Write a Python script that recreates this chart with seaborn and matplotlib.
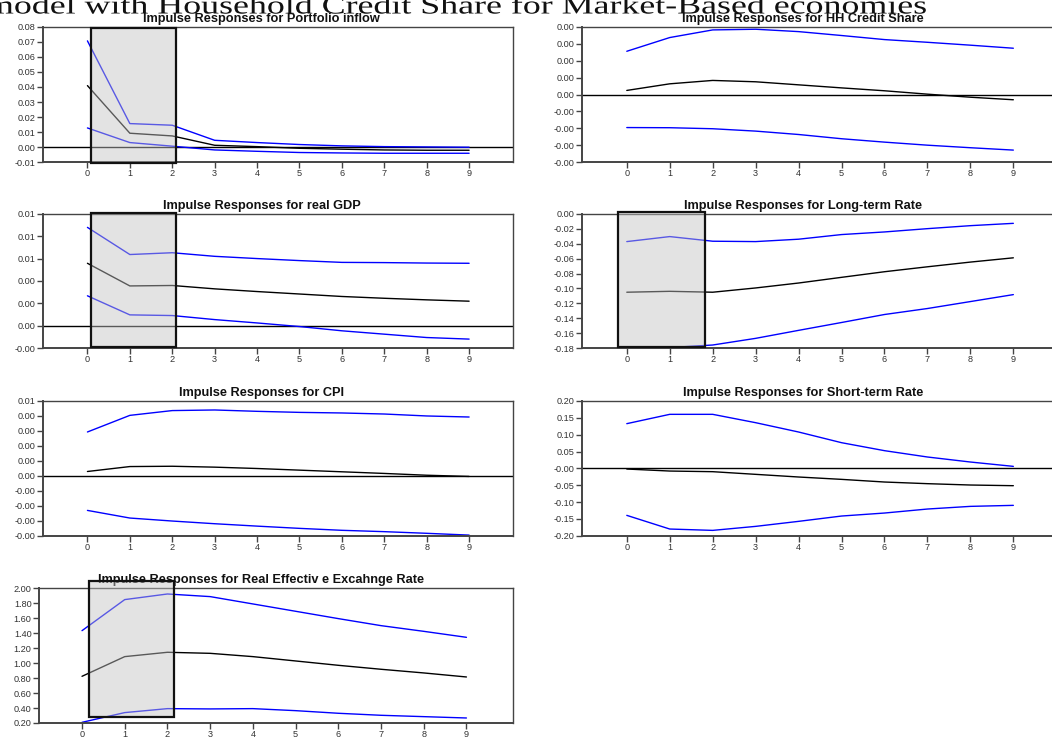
import numpy as np
import pandas as pd
import matplotlib
matplotlib.use("Agg")
import matplotlib.pyplot as plt
from matplotlib.patches import Rectangle
from matplotlib.transforms import Affine2D
import matplotlib.patheffects as pe
import seaborn as sns

# ---------------- data ----------------
horizon = [0, 1, 2, 3, 4, 5, 6, 7, 8, 9]

portfolio_hi = [0.0706, 0.0157, 0.0146, 0.0046, 0.0031, 0.0018, 0.0009, 0.0004, 0.0002, 0.0000]
portfolio_mid = [0.0409, 0.0093, 0.0075, 0.0013, 0.0004, -0.0007, -0.0013, -0.0018, -0.0020, -0.0020]
portfolio_lo = [0.0128, 0.0031, 0.0007, -0.0018, -0.0027, -0.0035, -0.0038, -0.0040, -0.0040, -0.0040]

hh_hi = [0.00255, 0.00336, 0.00381, 0.00385, 0.00371, 0.00348, 0.00324, 0.00308, 0.00291, 0.00273]
hh_mid = [0.00024, 0.00063, 0.00083, 0.00075, 0.00057, 0.00039, 0.00022, 0.00002, -0.00016, -0.00031]
hh_lo = [-0.00195, -0.00196, -0.00202, -0.00216, -0.00236, -0.00261, -0.00281, -0.00299, -0.00314, -0.00328]

gdp_hi = [0.00878, 0.00636, 0.00652, 0.00620, 0.00600, 0.00582, 0.00566, 0.00564, 0.00560, 0.00558]
gdp_mid = [0.00558, 0.00356, 0.00360, 0.00330, 0.00306, 0.00284, 0.00262, 0.00246, 0.00232, 0.00220]
gdp_lo = [0.00268, 0.00098, 0.00092, 0.00056, 0.00026, -0.00006, -0.00044, -0.00074, -0.00104, -0.00118]

lt_hi = [-0.0373, -0.0306, -0.0368, -0.0373, -0.0341, -0.0279, -0.0244, -0.0200, -0.0160, -0.0129]
lt_mid = [-0.1050, -0.1038, -0.1050, -0.0993, -0.0927, -0.0851, -0.0776, -0.0710, -0.0647, -0.0590]
lt_lo = [-0.1790, -0.1790, -0.1756, -0.1667, -0.1560, -0.1455, -0.1348, -0.1268, -0.1175, -0.1082]

cpi_hi = [0.00293, 0.00404, 0.00436, 0.00440, 0.00431, 0.00424, 0.00420, 0.00413, 0.00400, 0.00393]
cpi_mid = [0.00029, 0.00062, 0.00064, 0.00058, 0.00049, 0.00038, 0.00027, 0.00016, 0.00004, -0.00004]
cpi_lo = [-0.00231, -0.00282, -0.00302, -0.00320, -0.00336, -0.00351, -0.00364, -0.00373, -0.00384, -0.00396]

st_hi = [0.1327, 0.1604, 0.1604, 0.1356, 0.1079, 0.0762, 0.0525, 0.0337, 0.0188, 0.0059]
st_mid = [-0.0020, -0.0080, -0.0099, -0.0178, -0.0257, -0.0327, -0.0406, -0.0455, -0.0495, -0.0515]
st_lo = [-0.1396, -0.1802, -0.1842, -0.1723, -0.1574, -0.1416, -0.1327, -0.1208, -0.1129, -0.1099]

reer_hi = [1.434, 1.849, 1.924, 1.889, 1.791, 1.693, 1.595, 1.501, 1.425, 1.345]
reer_mid = [0.824, 1.087, 1.145, 1.131, 1.087, 1.029, 0.971, 0.918, 0.869, 0.815]
reer_lo = [0.209, 0.339, 0.392, 0.388, 0.392, 0.365, 0.330, 0.303, 0.285, 0.267]

titles = [
    "Impulse Responses for Portfolio inflow",
    "Impulse Responses for HH Credit Share",
    "Impulse Responses for real GDP",
    "Impulse Responses for Long-term Rate",
    "Impulse Responses for CPI",
    "Impulse Responses for Short-term Rate",
    "Impulse Responses for Real Effectiv e Excahnge Rate",
]

yticks_portfolio = [-0.01, 0.00, 0.01, 0.02, 0.03, 0.04, 0.05, 0.06, 0.07, 0.08]
ylabels_portfolio = ["-0.01", "0.00", "0.01", "0.02", "0.03", "0.04", "0.05", "0.06", "0.07", "0.08"]
yticks_hh = [-0.004, -0.003, -0.002, -0.001, 0.0, 0.001, 0.002, 0.003, 0.004]
ylabels_hh = ["-0.00", "-0.00", "-0.00", "-0.00", "0.00", "0.00", "0.00", "0.00", "0.00"]
yticks_gdp = [-0.002, 0.0, 0.002, 0.004, 0.006, 0.008, 0.010]
ylabels_gdp = ["-0.00", "0.00", "0.00", "0.00", "0.01", "0.01", "0.01"]
yticks_lt = [-0.18, -0.16, -0.14, -0.12, -0.10, -0.08, -0.06, -0.04, -0.02, 0.0]
ylabels_lt = ["-0.18", "-0.16", "-0.14", "-0.12", "-0.10", "-0.08", "-0.06", "-0.04", "-0.02", "0.00"]
yticks_cpi = [-0.004, -0.003, -0.002, -0.001, 0.0, 0.001, 0.002, 0.003, 0.004, 0.005]
ylabels_cpi = ["-0.00", "-0.00", "-0.00", "-0.00", "0.00", "0.00", "0.00", "0.00", "0.00", "0.01"]
yticks_st = [-0.20, -0.15, -0.10, -0.05, 0.0, 0.05, 0.10, 0.15, 0.20]
ylabels_st = ["-0.20", "-0.15", "-0.10", "-0.05", "-0.00", "0.05", "0.10", "0.15", "0.20"]
yticks_reer = [0.2, 0.4, 0.6, 0.8, 1.0, 1.2, 1.4, 1.6, 1.8, 2.0]
ylabels_reer = ["0.20", "0.40", "0.60", "0.80", "1.00", "1.20", "1.40", "1.60", "1.80", "2.00"]
xlabels = ["0", "1", "2", "3", "4", "5", "6", "7", "8", "9"]

suptitle = "model with Household Credit Share for Market-Based economies"

# ---------------- style ----------------
sns.set_theme(style="ticks")
plt.rcParams["font.family"] = ["Liberation Sans", "DejaVu Sans"]

W, H = 1052, 738
fig = plt.figure(figsize=(W / 100, H / 100), dpi=100)
fig.patch.set_facecolor("white")


def rect(x0, ytop, x1, ybot):
    return [x0 / W, 1 - ybot / H, (x1 - x0) / W, (ybot - ytop) / H]


panels = [
    dict(r=rect(42.7, 26.7, 513, 162.3), xlim=(-1.055, 10.035), ylim=(-0.01, 0.08),
         hi=portfolio_hi, mid=portfolio_mid, lo=portfolio_lo, yt=yticks_portfolio, yl=ylabels_portfolio,
         zero=True, box=(0.085, -0.0105, 2.1, 0.0792), tx=0.4652, right=False),
    dict(r=rect(581.7, 26.7, 1052, 162.3), xlim=(-1.05, 9.90), ylim=(-0.004, 0.004),
         hi=hh_hi, mid=hh_mid, lo=hh_lo, yt=yticks_hh, yl=ylabels_hh,
         zero=True, box=None, tx=0.4706, right=True),
    dict(r=rect(42.7, 213.7, 513, 348.3), xlim=(-1.055, 10.035), ylim=(-0.002, 0.010),
         hi=gdp_hi, mid=gdp_mid, lo=gdp_lo, yt=yticks_gdp, yl=ylabels_gdp,
         zero=True, box=(0.085, -0.00188, 2.1, 0.0101), tx=0.4652, right=False),
    dict(r=rect(581.7, 213.7, 1052, 348.3), xlim=(-1.05, 9.90), ylim=(-0.18, 0.0),
         hi=lt_hi, mid=lt_mid, lo=lt_lo, yt=yticks_lt, yl=ylabels_lt,
         zero=False, box=(-0.196, -0.178, 1.82, 0.0018), tx=0.4706, right=True),
    dict(r=rect(42.7, 401, 513, 535.7), xlim=(-1.055, 10.035), ylim=(-0.004, 0.005),
         hi=cpi_hi, mid=cpi_mid, lo=cpi_lo, yt=yticks_cpi, yl=ylabels_cpi,
         zero=True, box=None, tx=0.4652, right=False),
    dict(r=rect(581.7, 401, 1052, 535.7), xlim=(-1.05, 9.90), ylim=(-0.20, 0.20),
         hi=st_hi, mid=st_mid, lo=st_lo, yt=yticks_st, yl=ylabels_st,
         zero=True, box=None, tx=0.4706, right=True),
    dict(r=rect(39.3, 588.3, 513, 723), xlim=(-1.0, 10.09), ylim=(0.2, 2.0),
         hi=reer_hi, mid=reer_mid, lo=reer_lo, yt=yticks_reer, yl=ylabels_reer,
         zero=False, box=(0.16, 0.285, 2.16, 2.098), tx=0.468, right=False),
]

spine_col = "#444444"
for p, title in zip(panels, titles):
    ax = fig.add_axes(p["r"])
    ax.set_facecolor("white")
    df = pd.DataFrame({"h": horizon, "hi": p["hi"], "mid": p["mid"], "lo": p["lo"]})
    if p["zero"]:
        ax.axhline(0, color="black", lw=1.0, zorder=1)
    sns.lineplot(data=df, x="h", y="hi", ax=ax, color="#0000FF", lw=1.0, zorder=2)
    sns.lineplot(data=df, x="h", y="mid", ax=ax, color="black", lw=1.0, zorder=2)
    sns.lineplot(data=df, x="h", y="lo", ax=ax, color="#0000FF", lw=1.0, zorder=2)
    ax.set_xlim(*p["xlim"])
    ax.set_ylim(*p["ylim"])
    ax.set_xticks(horizon)
    ax.set_xticklabels(xlabels)
    ax.set_yticks(p["yt"])
    ax.set_yticklabels(p["yl"])
    ax.set_xlabel("")
    ax.set_ylabel("")
    ax.tick_params(axis="both", direction="out", length=4, width=1.0, color=spine_col,
                   labelsize=6.6, labelcolor="#333333", pad=1.5)
    ax.tick_params(axis="x", pad=1.0)
    for side in ["top", "right"]:
        ax.spines[side].set_color(spine_col)
        ax.spines[side].set_linewidth(1.0)
    for side in ["left", "bottom"]:
        ax.spines[side].set_color(spine_col)
        ax.spines[side].set_linewidth(1.4)
    if p["right"]:
        ax.spines["right"].set_visible(False)
    ax.set_title(title, x=p["tx"], pad=3.5, fontsize=9.2, fontweight="bold", color="#111111")
    if p["box"] is not None:
        x0, y0, x1, y1 = p["box"]
        ax.add_patch(Rectangle((x0, y0), x1 - x0, y1 - y0, facecolor=(0.765, 0.765, 0.765, 0.46),
                               edgecolor="#111111", lw=1.6, zorder=5, clip_on=False))


# horizontally stretched serif heading (the reference renders it wide)
class StretchX(pe.AbstractPathEffect):
    def __init__(self, sx, x0):
        super().__init__()
        self.sx = sx
        self.x0 = x0

    def draw_path(self, renderer, gc, tpath, affine, rgbFace=None):
        aff = affine + Affine2D().translate(-self.x0, 0).scale(self.sx, 1).translate(self.x0, 0)
        renderer.draw_path(gc, tpath, aff, rgbFace)


title_left_px = -14.0
title_right_px = 930.0
t = fig.text(title_left_px / W, 1 - 13.5 / H, suptitle, ha="left", va="baseline",
             fontsize=18.5, family=["Liberation Serif", "DejaVu Serif"], color="#111111")
renderer = fig.canvas.get_renderer()
bb = t.get_window_extent(renderer=renderer)
sx = (title_right_px - title_left_px) / bb.width
t.set_path_effects([StretchX(sx, bb.x0)])

fig.savefig("out.png", dpi=100, facecolor="white")
